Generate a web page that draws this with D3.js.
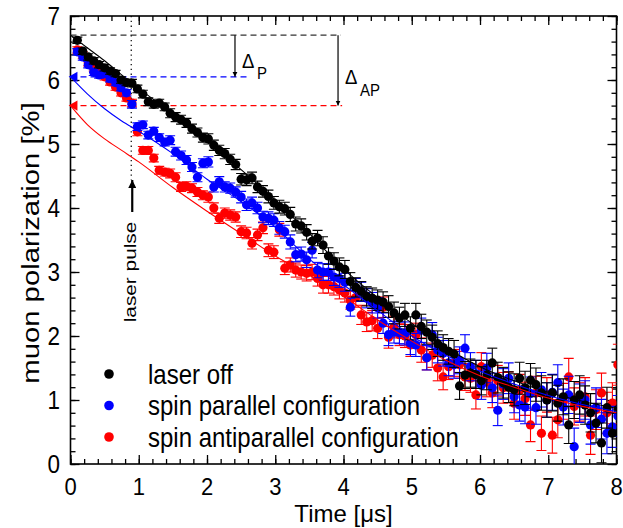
<!DOCTYPE html>
<html>
<head>
<meta charset="utf-8">
<script src="https://cdn.jsdelivr.net/npm/d3@7"></script>
<style>
  body { margin: 0; background: #fff; }
  text { font-family: "Liberation Sans", Arial, sans-serif; fill: #000; }
</style>
</head>
<body>
<div id="chart"></div>
<script>
// time bins (microseconds), shared by the three runs
const times = [
  0.10,0.18,0.26,0.34,0.42,0.50,0.58,0.66,0.74,0.82,
  0.90,0.98,1.06,1.14,1.22,1.30,1.38,1.46,1.54,1.62,
  1.70,1.78,1.86,1.94,2.02,2.10,2.18,2.26,2.34,2.42,
  2.50,2.58,2.66,2.74,2.82,2.90,2.98,3.06,3.14,3.22,
  3.30,3.38,3.46,3.54,3.62,3.70,3.78,3.86,3.94,4.02,
  4.10,4.18,4.26,4.34,4.42,4.50,4.58,4.66,4.74,4.82,
  4.90,4.98,5.06,5.14,5.22,5.30,5.38,5.46,5.54,5.62,
  5.70,5.78,5.86,5.94,6.02,6.10,6.18,6.26,6.34,6.42,
  6.50,6.58,6.66,6.74,6.82,6.90,6.98,7.06,7.14,7.22,
  7.30,7.38,7.46,7.54,7.62,7.70,7.78,7.86,7.94,8.02
];

// muon polarization [%]
const laserOff = [
  6.62,6.45,6.36,6.30,6.24,6.19,6.14,6.10,6.00,5.96,
  5.95,5.86,5.78,5.66,5.62,5.64,5.58,5.48,5.42,5.38,
  5.33,5.24,5.18,5.10,5.08,4.98,4.90,4.85,4.76,4.68,
  4.45,4.44,4.47,4.33,4.26,4.18,4.08,4.02,3.99,3.90,
  3.75,3.72,3.62,3.48,3.53,3.42,3.25,3.17,3.08,3.04,
  2.85,2.76,2.70,2.62,2.59,2.56,2.53,2.46,2.36,2.28,
  2.33,2.12,2.33,2.15,2.06,1.98,1.88,1.82,1.76,1.72,
  1.22,1.39,1.42,1.40,1.30,1.39,1.58,1.35,1.27,1.20,
  1.16,1.34,1.19,1.31,1.24,1.11,1.00,1.11,0.95,1.05,
  0.61,1.00,1.08,0.92,0.80,0.64,0.33,0.88,0.48,0.85
];
const spinParallel = [
  6.44,6.36,6.24,6.12,6.08,6.10,6.02,5.96,5.88,5.80,
  5.62,5.27,5.30,5.14,5.20,5.10,5.03,5.06,4.88,4.82,
  4.75,4.64,4.48,4.70,4.72,4.33,4.41,4.33,4.31,4.25,
  4.17,4.05,4.08,4.00,3.86,3.84,3.81,3.69,3.63,3.47,
  3.27,3.28,3.19,3.34,3.03,3.00,3.00,2.92,2.90,2.84,
  2.45,2.75,2.69,2.59,2.52,2.44,2.20,2.02,2.06,2.05,
  2.04,1.89,1.86,2.09,1.66,2.02,1.78,1.73,1.58,1.55,
  1.62,1.81,1.52,1.40,1.23,1.50,1.19,0.84,1.25,1.34,
  1.05,0.92,0.89,1.10,0.88,1.16,1.00,1.12,1.27,0.89,
  1.08,0.27,0.95,1.00,0.61,0.88,0.70,0.48,0.58,0.75
];
const spinAntiparallel = [
  6.47,6.39,6.27,6.19,6.12,6.05,5.97,5.89,5.80,5.72,
  5.64,5.19,4.90,4.90,4.78,4.59,4.56,4.54,4.48,4.33,
  4.34,4.31,4.25,4.20,4.17,4.00,3.84,3.92,3.89,3.86,
  3.63,3.61,3.45,3.58,3.69,3.34,3.31,3.66,3.06,3.11,
  3.03,3.00,2.98,3.00,2.90,2.80,2.80,2.77,2.72,2.67,
  2.56,2.60,2.33,2.22,2.24,2.12,2.45,1.98,2.14,2.02,
  2.00,1.86,2.02,1.78,1.66,1.70,1.50,1.36,1.52,1.58,
  1.55,1.36,1.34,1.08,1.52,1.28,1.11,1.30,1.19,1.20,
  0.95,1.15,1.02,0.61,1.11,0.48,1.08,0.45,0.69,0.98,
  1.36,0.90,0.97,1.05,0.45,0.85,1.11,0.80,0.95,1.55
];
// statistical error per bin
const errors = [
  0.05,0.05,0.05,0.05,0.05,0.05,0.05,0.05,0.05,0.05,
  0.06,0.06,0.06,0.06,0.06,0.06,0.06,0.07,0.07,0.07,
  0.07,0.07,0.07,0.07,0.08,0.08,0.08,0.08,0.08,0.08,
  0.09,0.09,0.09,0.09,0.09,0.10,0.10,0.10,0.10,0.11,
  0.11,0.11,0.12,0.12,0.12,0.13,0.13,0.13,0.14,0.14,
  0.14,0.15,0.15,0.15,0.16,0.16,0.16,0.17,0.17,0.17,
  0.18,0.18,0.18,0.19,0.19,0.19,0.20,0.20,0.20,0.21,
  0.21,0.21,0.22,0.22,0.22,0.23,0.23,0.24,0.24,0.24,
  0.25,0.25,0.26,0.26,0.26,0.27,0.27,0.28,0.28,0.28,
  0.29,0.29,0.30,0.30,0.30,0.31,0.31,0.32,0.32,0.32
];

// fitted curves
const fitTimes = [0,0.25,0.5,0.75,1,1.5,2,2.5,3,3.5,4,4.5,5,5.5,6,6.5,7,7.5,8];
const fitOff   = [6.70,6.50,6.30,6.08,5.87,5.47,5.05,4.60,4.12,3.60,3.05,2.60,2.20,1.82,1.52,1.30,1.12,0.98,0.87];
const fitPar   = [6.05,5.78,5.55,5.36,5.20,4.85,4.45,4.10,3.70,3.20,2.80,2.40,2.00,1.70,1.45,1.25,1.07,0.93,0.82];
const fitAnti  = [5.60,5.30,5.08,4.90,4.72,4.32,3.95,3.60,3.25,2.95,2.62,2.25,1.92,1.62,1.38,1.20,1.03,0.90,0.80];

// initial polarizations (dashed levels) and laser pulse time
const levels = [6.70, 6.05, 5.60];
const pulseTime = 0.89;

const labels = ["laser off", "spin parallel configuration", "spin antiparallel configuration"];
const colors = ["#000000", "#0000ff", "#ff0000"];
const xTicks = [0,1,2,3,4,5,6,7,8];
const yTicks = [0,1,2,3,4,5,6,7];

const width = 623, height = 528;
const margin = {top: 16, right: 6.5, bottom: 64, left: 70.5};

const svg = d3.select("#chart").append("svg")
    .attr("width", width)
    .attr("height", height);

const x = d3.scaleLinear().domain([0, 8]).range([margin.left, width - margin.right]);
const y = d3.scaleLinear().domain([0, 7]).range([height - margin.bottom, margin.top]);

const defs = svg.append("defs");
defs.append("clipPath").attr("id", "plot")
  .append("rect")
    .attr("x", x(0)).attr("y", y(7))
    .attr("width", x(8) - x(0)).attr("height", y(0) - y(7));
defs.append("marker").attr("id", "head")
    .attr("viewBox", "0 0 10 10").attr("refX", 10).attr("refY", 5)
    .attr("markerWidth", 5).attr("markerHeight", 9).attr("markerUnits", "userSpaceOnUse")
    .attr("orient", "auto")
  .append("path").attr("d", "M0,0L10,5L0,10Z").attr("fill", "#000");
defs.append("marker").attr("id", "bighead")
    .attr("viewBox", "0 0 10 10").attr("refX", 10).attr("refY", 5)
    .attr("markerWidth", 13).attr("markerHeight", 8).attr("markerUnits", "userSpaceOnUse")
    .attr("orient", "auto")
  .append("path").attr("d", "M0,0L10,5L0,10Z").attr("fill", "#000");

// text helper: the figure's lettering is slightly stretched
function addText(parent, tx, ty, str, size, opt = {}) {
  const rot = opt.rotate ? ` rotate(${opt.rotate})` : "";
  return parent.append("text")
      .attr("transform", `translate(${tx},${ty})${rot} scale(${opt.sx || 1},${opt.sy || 1})`)
      .attr("text-anchor", opt.anchor || "start")
      .style("font-size", size + "px")
      .text(str);
}

// axes: inward ticks on all four sides
const minorX = d3.range(0, 8.01, 0.2);
const minorY = d3.range(0, 7.01, 0.2);

function styleAxis(g) {
  g.select(".domain").remove();
  g.selectAll("line").attr("stroke", "#000").attr("stroke-width", 1.3);
}
function ticks(axis, pos, vals, size) {
  svg.append("g").attr("transform", pos)
    .call(axis.tickValues(vals).tickSizeInner(-size).tickSizeOuter(0).tickFormat(""))
    .call(styleAxis);
}
ticks(d3.axisBottom(x), `translate(0,${y(0)})`, minorX, 5);
ticks(d3.axisBottom(x), `translate(0,${y(0)})`, xTicks, 9);
ticks(d3.axisTop(x), `translate(0,${y(7)})`, minorX, 5);
ticks(d3.axisTop(x), `translate(0,${y(7)})`, xTicks, 9);
ticks(d3.axisLeft(y), `translate(${x(0)},0)`, minorY, 5);
ticks(d3.axisLeft(y), `translate(${x(0)},0)`, yTicks, 9);
ticks(d3.axisRight(y), `translate(${x(8)},0)`, minorY, 5);
ticks(d3.axisRight(y), `translate(${x(8)},0)`, yTicks, 9);

svg.append("rect")
    .attr("x", x(0)).attr("y", y(7))
    .attr("width", x(8) - x(0)).attr("height", y(0) - y(7))
    .attr("fill", "none").attr("stroke", "#000").attr("stroke-width", 1.6);

// tick labels
xTicks.forEach(v => addText(svg, x(v), 495, String(v), 22, {anchor: "middle", sy: 1.05}));
yTicks.forEach(v => addText(svg, 60, y(v) + 9, String(v), 22.5, {anchor: "end", sy: 1.12}));

// axis titles
addText(svg, (x(0) + x(8)) / 2, 522, "Time [\u03bcs]", 24, {anchor: "middle"});
addText(svg, 39, 243, "muon polarization [%]", 24, {anchor: "middle", rotate: -90, sx: 1.22});

// dashed levels and delta arrows
const dashEnds = [3.96, 2.6, 3.98];
levels.forEach((lv, i) => {
  svg.append("line")
      .attr("x1", x(0)).attr("x2", x(dashEnds[i]))
      .attr("y1", y(lv)).attr("y2", y(lv))
      .attr("stroke", i === 0 ? "#333" : colors[i]).attr("stroke-width", 1.2)
      .attr("stroke-dasharray", "6,4");
});
svg.append("line")
    .attr("x1", x(2.41)).attr("x2", x(2.41))
    .attr("y1", y(levels[0])).attr("y2", y(levels[1]))
    .attr("stroke", "#000").attr("stroke-width", 1.2).attr("marker-end", "url(#head)");
svg.append("line")
    .attr("x1", x(3.92)).attr("x2", x(3.92))
    .attr("y1", y(levels[0])).attr("y2", y(levels[2]))
    .attr("stroke", "#000").attr("stroke-width", 1.2).attr("marker-end", "url(#head)");

addText(svg, 242, 68, "\u0394", 18.5, {sy: 1.12});
addText(svg, 257, 79, "P", 15, {sy: 1.12});
addText(svg, 345, 84, "\u0394", 18.5, {sy: 1.12});
addText(svg, 360, 96, "AP", 15, {sy: 1.12});

// triangles on the y axis at the fit start values
[1, 2].forEach(i => {
  svg.append("path")
      .attr("d", d3.symbol(d3.symbolTriangle, 45)())
      .attr("transform", `translate(${x(0) + 4},${y(levels[i])}) rotate(-90)`)
      .attr("fill", colors[i]);
});

// laser pulse marker
svg.append("line")
    .attr("x1", x(pulseTime)).attr("x2", x(pulseTime))
    .attr("y1", y(7)).attr("y2", y(4.44))
    .attr("stroke", "#000").attr("stroke-width", 1.2).attr("stroke-dasharray", "1.3,3.5");
svg.append("line")
    .attr("x1", x(pulseTime) + 1).attr("x2", x(pulseTime) + 1)
    .attr("y1", 212).attr("y2", 180)
    .attr("stroke", "#000").attr("stroke-width", 2.2).attr("marker-end", "url(#bighead)");
addText(svg, x(pulseTime) + 5, 272, "laser pulse", 16, {anchor: "middle", rotate: -90, sx: 1.3});

// data with error bars
const series = [
  {values: spinAntiparallel, fit: fitAnti, color: colors[2]},
  {values: spinParallel, fit: fitPar, color: colors[1]},
  {values: laserOff, fit: fitOff, color: colors[0]}
];

const plot = svg.append("g").attr("clip-path", "url(#plot)");
const cap = 5;

series.forEach(s => {
  const pts = times.map((t, i) => ({t: t, p: s.values[i], e: errors[i]}));
  const g = plot.append("g");
  const eb = g.selectAll(".eb").data(pts).enter().append("g")
      .attr("stroke", s.color).attr("stroke-width", 1.1);
  eb.append("line")
      .attr("x1", d => x(d.t)).attr("x2", d => x(d.t))
      .attr("y1", d => y(d.p - d.e)).attr("y2", d => y(d.p + d.e));
  eb.append("line")
      .attr("x1", d => x(d.t) - cap).attr("x2", d => x(d.t) + cap)
      .attr("y1", d => y(d.p + d.e)).attr("y2", d => y(d.p + d.e));
  eb.append("line")
      .attr("x1", d => x(d.t) - cap).attr("x2", d => x(d.t) + cap)
      .attr("y1", d => y(d.p - d.e)).attr("y2", d => y(d.p - d.e));
  g.selectAll("circle").data(pts).enter().append("circle")
      .attr("cx", d => x(d.t)).attr("cy", d => y(d.p))
      .attr("r", 4.6).attr("fill", s.color);
});

const fitLine = d3.line()
    .x(d => x(d[0])).y(d => y(d[1]))
    .curve(d3.curveMonotoneX);
series.forEach(s => {
  plot.append("path")
      .datum(fitTimes.map((t, i) => [t, s.fit[i]]))
      .attr("d", fitLine)
      .attr("fill", "none").attr("stroke", s.color).attr("stroke-width", 1.1);
});

// legend
const legend = svg.append("g");
labels.forEach((lab, i) => {
  legend.append("circle").attr("cx", 109).attr("cy", 374 + i * 31.5)
      .attr("r", 4.8).attr("fill", colors[i]);
  addText(legend, 148, 383.5 + i * 31.5, lab, 24, {sy: 1.12});
});
</script>
</body>
</html>
